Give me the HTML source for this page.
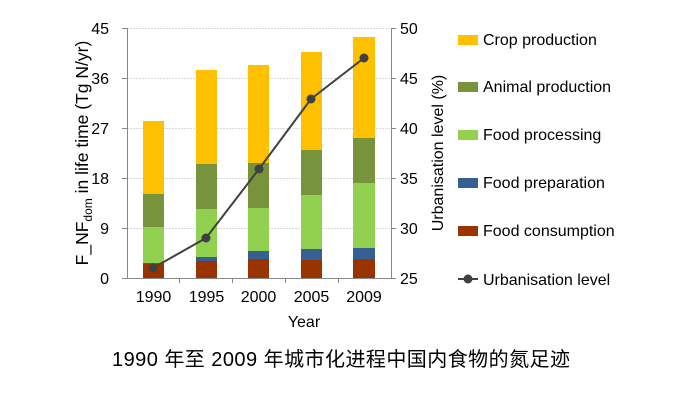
<!DOCTYPE html>
<html><head><meta charset="utf-8"><style>
body{margin:0;background:#fff;}
svg text{font-family:"Liberation Sans",Arial,sans-serif;fill:#000;}
</style></head><body>
<svg width="685" height="404" xmlns="http://www.w3.org/2000/svg">
<g stroke="#d9d9d9" stroke-width="1" stroke-dasharray="2,1">
<line x1="127" y1="28.5" x2="391" y2="28.5"/><line x1="127" y1="78.5" x2="391" y2="78.5"/>
<line x1="127" y1="128.5" x2="391" y2="128.5"/><line x1="127" y1="178.5" x2="391" y2="178.5"/>
<line x1="127" y1="228.5" x2="391" y2="228.5"/><line x1="391.5" y1="28" x2="391.5" y2="278"/>
</g>
<g stroke="#888" stroke-width="1">
<line x1="127.5" y1="28" x2="127.5" y2="279"/><line x1="127" y1="278.5" x2="396" y2="278.5"/>
<line x1="391.5" y1="28" x2="391.5" y2="279"/>
<line x1="122" y1="28.5" x2="127" y2="28.5"/><line x1="122" y1="78.5" x2="127" y2="78.5"/><line x1="122" y1="128.5" x2="127" y2="128.5"/><line x1="122" y1="178.5" x2="127" y2="178.5"/><line x1="122" y1="228.5" x2="127" y2="228.5"/><line x1="122" y1="278.5" x2="127" y2="278.5"/>
<line x1="391" y1="28.5" x2="396" y2="28.5"/><line x1="391" y1="78.5" x2="396" y2="78.5"/><line x1="391" y1="128.5" x2="396" y2="128.5"/><line x1="391" y1="178.5" x2="396" y2="178.5"/><line x1="391" y1="228.5" x2="396" y2="228.5"/>
<line x1="179.5" y1="278" x2="179.5" y2="283"/><line x1="232.5" y1="278" x2="232.5" y2="283"/><line x1="285.5" y1="278" x2="285.5" y2="283"/><line x1="338.5" y1="278" x2="338.5" y2="283"/>
</g>
<g>
<rect x="143" y="121" width="21" height="73" fill="#ffc000"/><rect x="143" y="194" width="21" height="33" fill="#77933c"/><rect x="143" y="227" width="21" height="36" fill="#92d050"/><rect x="143" y="263" width="21" height="1" fill="#366092"/><rect x="143" y="264" width="21" height="14" fill="#993300"/>
<rect x="196" y="70" width="21" height="94" fill="#ffc000"/><rect x="196" y="164" width="21" height="45" fill="#77933c"/><rect x="196" y="209" width="21" height="48" fill="#92d050"/><rect x="196" y="257" width="21" height="4" fill="#366092"/><rect x="196" y="261" width="21" height="17" fill="#993300"/>
<rect x="248" y="65" width="21" height="98" fill="#ffc000"/><rect x="248" y="163" width="21" height="45" fill="#77933c"/><rect x="248" y="208" width="21" height="43" fill="#92d050"/><rect x="248" y="251" width="21" height="8" fill="#366092"/><rect x="248" y="259" width="21" height="19" fill="#993300"/>
<rect x="301" y="52" width="21" height="98" fill="#ffc000"/><rect x="301" y="150" width="21" height="45" fill="#77933c"/><rect x="301" y="195" width="21" height="54" fill="#92d050"/><rect x="301" y="249" width="21" height="11" fill="#366092"/><rect x="301" y="260" width="21" height="18" fill="#993300"/>
<rect x="353" y="37" width="22" height="101" fill="#ffc000"/><rect x="353" y="138" width="22" height="45" fill="#77933c"/><rect x="353" y="183" width="22" height="65" fill="#92d050"/><rect x="353" y="248" width="22" height="11" fill="#366092"/><rect x="353" y="259" width="22" height="19" fill="#993300"/>
</g>
<polyline points="153,268 206,238 259,169 311,99 364,58" fill="none" stroke="#404040" stroke-width="2"/>
<g fill="#404040"><circle cx="153" cy="268" r="4.5"/><circle cx="206" cy="238" r="4.5"/><circle cx="259" cy="169" r="4.5"/><circle cx="311" cy="99" r="4.5"/><circle cx="364" cy="58" r="4.5"/></g>
<g font-size="16" text-anchor="end">
<text x="109" y="34">45</text><text x="109" y="84">36</text><text x="109" y="134">27</text><text x="109" y="184">18</text><text x="109" y="234">9</text><text x="109" y="284">0</text>
</g>
<g font-size="16" text-anchor="start">
<text x="400" y="34">50</text><text x="400" y="84">45</text><text x="400" y="134">40</text><text x="400" y="184">35</text><text x="400" y="234">30</text><text x="400" y="284">25</text>
</g>
<g font-size="16" text-anchor="middle">
<text x="153.5" y="302">1990</text><text x="206.5" y="302">1995</text><text x="258.5" y="302">2000</text><text x="311.5" y="302">2005</text><text x="364" y="302">2009</text>
<text x="304" y="327" font-size="16">Year</text>
</g>
<text transform="translate(88,153) rotate(-90)" font-size="17.5" text-anchor="middle">F_NF<tspan font-size="12" dy="4">dom</tspan><tspan dy="-4"> in life time (Tg N/yr)</tspan></text>
<text transform="translate(443,153) rotate(-90)" font-size="16" text-anchor="middle">Urbanisation level (%)</text>
<g font-size="16">
<rect x="458" y="35" width="20" height="10" fill="#ffc000"/><text x="483" y="45">Crop production</text>
<rect x="458" y="82" width="20" height="10" fill="#77933c"/><text x="483" y="92">Animal production</text>
<rect x="458" y="130" width="20" height="10" fill="#92d050"/><text x="483" y="140">Food processing</text>
<rect x="458" y="178" width="20" height="10" fill="#366092"/><text x="483" y="188">Food preparation</text>
<rect x="458" y="226" width="20" height="10" fill="#993300"/><text x="483" y="236">Food consumption</text>
<line x1="458" y1="279" x2="478" y2="279" stroke="#404040" stroke-width="2"/><circle cx="468" cy="279" r="4.5" fill="#404040"/><text x="483" y="285">Urbanisation level</text>
</g>
<text x="112" y="366" font-size="20" textLength="458" lengthAdjust="spacing" style="font-family:'Liberation Sans','Noto Sans CJK SC',sans-serif">1990 年至 2009 年城市化进程中国内食物的氮足迹</text>
</svg>
</body></html>
